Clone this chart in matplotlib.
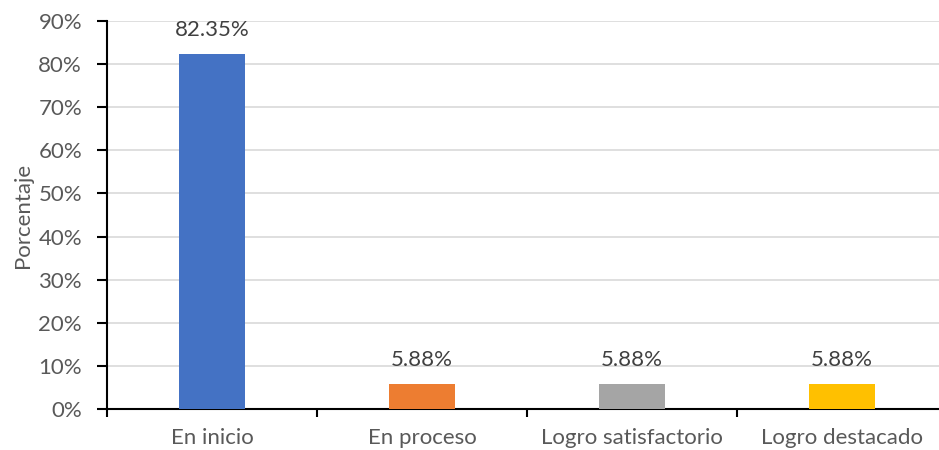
import matplotlib
matplotlib.use("Agg")
import matplotlib.pyplot as plt
from matplotlib.ticker import FuncFormatter, FixedLocator

categories = ["En inicio", "En proceso", "Logro satisfactorio", "Logro destacado"]
values = [82.35, 5.88, 5.88, 5.88]
colors = ["#4472C4", "#ED7D31", "#A5A5A5", "#FFC000"]
y_ticks = [0, 10, 20, 30, 40, 50, 60, 70, 80, 90]

plt.rcParams["font.family"] = ["Lato", "DejaVu Sans"]
text_color = "#595959"

fig = plt.figure(figsize=(9.39, 4.5), dpi=100)
W, H = 939, 450
left, right, bottom, top = 107, 947, 409, 21
ax = fig.add_axes([left / W, 1 - bottom / H, (right - left) / W, (bottom - top) / H])

x = range(len(categories))
bars = ax.bar(x, values, width=0.314, color=colors, zorder=3)

for xi, v in zip(x, values):
    ax.annotate(f"{v:.2f}%", (xi, v), xytext=(0, 10), textcoords="offset points",
                ha="center", va="bottom", fontsize=16, color="#404040")

ax.set_xlim(-0.5, len(categories) - 0.5)
ax.set_ylim(0, 90)
ax.yaxis.set_major_locator(FixedLocator(y_ticks))
ax.yaxis.set_major_formatter(FuncFormatter(lambda v, p: f"{v:.0f}%"))
ax.grid(axis="y", color="#D9D9D9", linewidth=1.2, zorder=0)
ax.set_axisbelow(True)

# category labels centred, tick marks on the boundaries between categories
ax.set_xticks(list(x))
ax.set_xticklabels(categories, fontsize=16, color=text_color)
ax.tick_params(axis="x", length=0, pad=14)
ax.set_xticks([i + 0.5 for i in range(-1, len(categories))], minor=True)
ax.tick_params(axis="x", which="minor", length=6, width=1.5, direction="out", color="black")

ax.tick_params(axis="y", labelsize=16, labelcolor=text_color, length=7, width=1.5,
               direction="out", color="black", pad=11)

for s in ["top", "right"]:
    ax.spines[s].set_visible(False)
for s in ["left", "bottom"]:
    ax.spines[s].set_color("black")
    ax.spines[s].set_linewidth(1.5)

ax.set_ylabel("Porcentaje", fontsize=16, color=text_color, labelpad=4)

fig.savefig("out.png", dpi=100)
